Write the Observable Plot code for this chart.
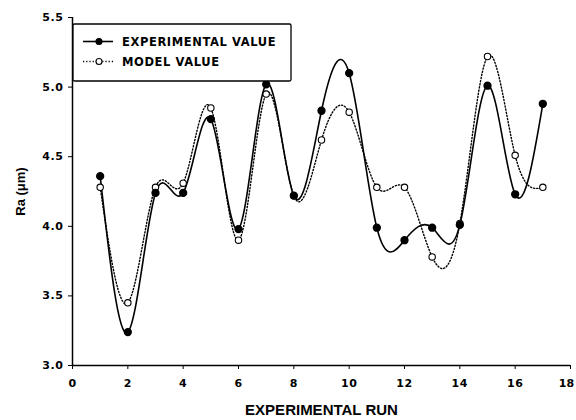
<!DOCTYPE html>
<html><head><meta charset="utf-8">
<script src="https://cdn.jsdelivr.net/npm/d3@7"></script>
<script src="https://cdn.jsdelivr.net/npm/@observablehq/plot@0.6"></script>
<style>
body{margin:0;background:#fff;}
</style>
</head><body>
<div id="chart"></div>
<script>
const runs = [1,2,3,4,5,6,7,8,9,10,11,12,13,14,15,16,17];
const experimental = [4.36,3.24,4.24,4.24,4.77,3.98,5.02,4.22,4.83,5.10,3.99,3.90,3.99,4.01,5.01,4.23,4.88];
const model = [4.28,3.45,4.28,4.31,4.85,3.90,4.95,4.22,4.62,4.82,4.28,4.28,3.78,4.02,5.22,4.51,4.28];
const xTicks = [0,2,4,6,8,10,12,14,16,18];
const yTicks = [3.0,3.5,4.0,4.5,5.0,5.5];
const seriesNames = ["EXPERIMENTAL VALUE","MODEL VALUE"];

const expData = runs.map((r,i)=>({run:r, ra:experimental[i]}));
const modData = runs.map((r,i)=>({run:r, ra:model[i]}));

const tickFont = '"DejaVu Sans", sans-serif';
const plot = Plot.plot({
  width: 576, height: 420,
  marginLeft: 72, marginRight: 6, marginTop: 17, marginBottom: 55,
  style: {fontFamily: '"Liberation Sans", Arial, sans-serif', fontWeight: "bold", fontSize: "11px", color: "#000", background: "#fff"},
  x: {domain: [0,18]},
  y: {domain: [3,5.5]},
  marks: [
    Plot.axisX({ticks: xTicks, tickSize: 4, tickPadding: 10, tickFormat: d => d, label: "EXPERIMENTAL RUN", labelAnchor: "center", labelArrow: "none", labelOffset: 49, fontSize: 11}),
    Plot.axisY({ticks: yTicks, tickSize: 4, tickPadding: 5, tickFormat: d3.format(".1f"), label: "Ra (μm)", labelAnchor: "center", labelArrow: "none", labelOffset: 57, fontSize: 11}),
    Plot.ruleX([0], {stroke: "#000", strokeWidth: 1.5}),
    Plot.ruleY([3], {stroke: "#000", strokeWidth: 1.5}),
    Plot.line(modData, {x: "run", y: "ra", curve: "natural", stroke: "#000", strokeWidth: 1.4, strokeDasharray: "1.2,2"}),
    Plot.line(expData, {x: "run", y: "ra", curve: "natural", stroke: "#000", strokeWidth: 1.6}),
    Plot.dot(modData, {x: "run", y: "ra", r: 3.2, fill: "#fff", stroke: "#000", strokeWidth: 1.1}),
    Plot.dot(expData, {x: "run", y: "ra", r: 3.4, fill: "#000", stroke: "#000"})
  ]
});
document.getElementById("chart").appendChild(plot);

const svg = d3.select(plot);
svg.selectAll("[aria-label='x-axis tick label'] text, [aria-label='y-axis tick label'] text")
  .style("font-family", tickFont).style("font-size","11px").style("letter-spacing","0.6px");
// keep the last x tick label inside the picture
const xLabels = svg.selectAll("[aria-label='x-axis tick label'] text").nodes();
if (xLabels.length) {
  const last = d3.select(xLabels[xLabels.length - 1]);
  last.style("letter-spacing","0px").attr("dx", -4);
}
svg.selectAll("[aria-label='x-axis label'] text").style("font-size","15px");
svg.selectAll("[aria-label='y-axis label'] text").style("font-size","13px");

// legend box
const lg = svg.append("g").attr("class","legend");
lg.append("rect").attr("x",73).attr("y",24).attr("width",218).attr("height",57).attr("rx",1.5)
  .attr("fill","#fff").attr("stroke","#000").attr("stroke-width",1.3);
const rows = [
  {name: seriesNames[0], y: 41.5, dash: null, fill: "#000"},
  {name: seriesNames[1], y: 61.5, dash: "1.2,2", fill: "#fff"}
];
rows.forEach(r => {
  lg.append("line").attr("x1",83).attr("x2",113).attr("y1",r.y).attr("y2",r.y)
    .attr("stroke","#000").attr("stroke-width",r.dash?1.4:1.6).attr("stroke-dasharray",r.dash);
  lg.append("circle").attr("cx",99).attr("cy",r.y).attr("r",3).attr("fill",r.fill).attr("stroke","#000").attr("stroke-width",1.1);
  lg.append("text").attr("x",122).attr("y",r.y).attr("dy","0.36em")
    .attr("text-anchor","start")
    .style("font-family", tickFont).style("font-size","11.5px").style("letter-spacing","0.6px")
    .attr("font-weight","bold").attr("fill","#000").text(r.name);
});
</script>
</body></html>
